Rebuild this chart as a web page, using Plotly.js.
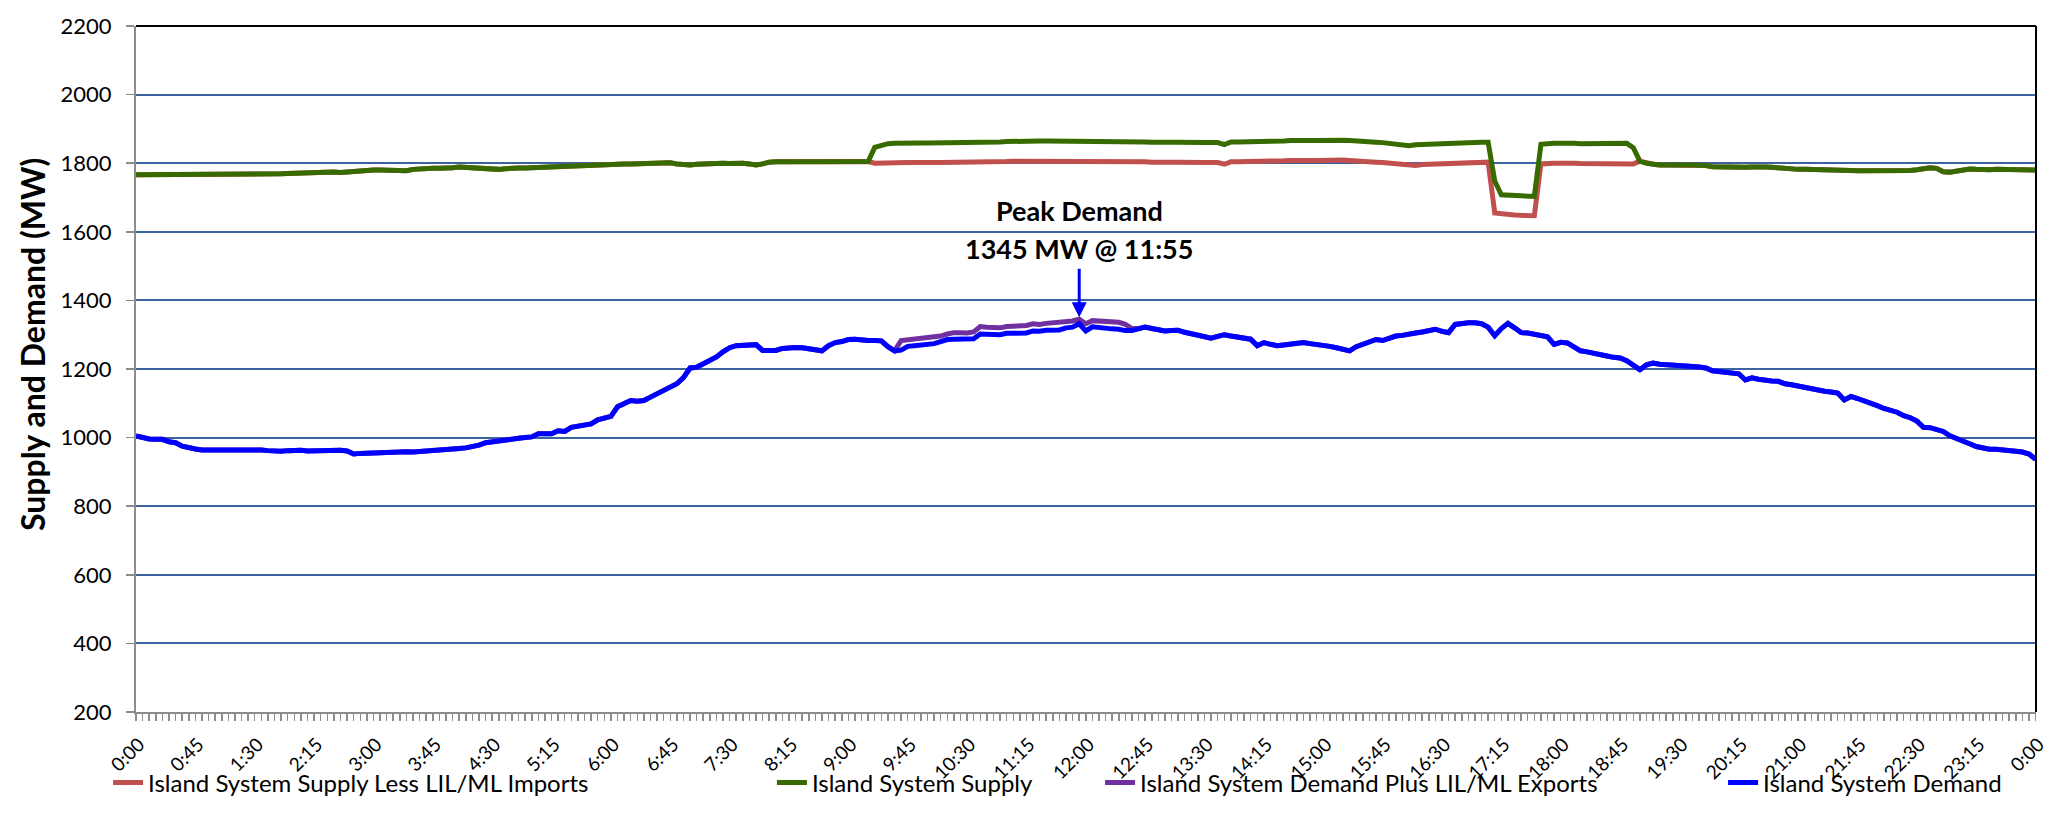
<!DOCTYPE html>
<html>
<head>
<meta charset="utf-8">
<script src="https://cdn.plot.ly/plotly-3.0.1.min.js"></script>
<style>html,body{margin:0;padding:0;background:#fff;}#chart{width:2047px;height:831px;}</style>
</head>
<body>
<div id="chart"></div>
<script>
// 5-minute intervals from 0:00 to 24:00 (289 points)
const tickLabels = ['0:00','0:45','1:30','2:15','3:00','3:45','4:30','5:15','6:00','6:45','7:30','8:15','9:00','9:45','10:30','11:15','12:00','12:45','13:30','14:15','15:00','15:45','16:30','17:15','18:00','18:45','19:30','20:15','21:00','21:45','22:30','23:15','0:00'];

const islandDemand = [
1005,1000,996,995,995,988,985,975,970,967,
964,964,965,966,966,965,964,965,964,964,
962,960,960,962,963,963,961,962,963,962,
962,963,961,952,954,955,956,957,957,958,
959,959,958,959,960,961,962,964,966,968,
970,973,978,985,988,992,995,996,998,1000,
1002,1011,1010,1011,1020,1018,1030,1034,1035,1040,
1052,1058,1062,1090,1100,1108,1106,1108,1118,1128,
1138,1147,1157,1175,1203,1205,1215,1222,1235,1250,
1262,1268,1270,1272,1271,1254,1253,1254,1260,1262,
1263,1262,1258,1254,1253,1268,1277,1280,1286,1287,
1284,1283,1283,1282,1265,1253,1255,1266,1268,1270,
1271,1274,1280,1286,1287,1287,1286,1288,1302,1301,
1300,1300,1304,1305,1306,1305,1311,1310,1313,1315,
1314,1320,1322,1332,1311,1323,1320,1318,1317,1316,
1312,1312,1318,1322,1318,1313,1311,1312,1313,1307,
1302,1298,1293,1290,1295,1300,1296,1292,1290,1287,
1268,1277,1272,1268,1270,1273,1276,1277,1274,1272,
1268,1266,1262,1258,1253,1265,1272,1278,1286,1283,
1290,1296,1298,1300,1305,1308,1313,1316,1310,1306,
1330,1333,1335,1335,1332,1322,1297,1318,1333,1320,
1306,1305,1302,1298,1294,1272,1278,1276,1265,1253,
1250,1247,1244,1238,1234,1232,1224,1212,1198,1212,
1217,1214,1212,1211,1210,1208,1207,1206,1203,1195,
1193,1191,1190,1186,1168,1174,1170,1166,1165,1164,
1157,1154,1150,1147,1141,1137,1135,1133,1130,1110,
1120,1114,1108,1100,1093,1085,1079,1074,1064,1058,
1048,1030,1029,1025,1018,1005,996,990,982,974,
970,966,966,963,962,960,958,952,937];

const demandPlusExports = [
1005,1000,996,995,995,988,985,975,970,967,
964,964,965,966,966,965,964,965,964,964,
962,960,960,962,963,963,961,962,963,962,
962,963,961,952,954,955,956,957,957,958,
959,959,958,959,960,961,962,964,966,968,
970,973,978,985,988,992,995,996,998,1000,
1002,1011,1010,1011,1020,1018,1030,1034,1035,1040,
1052,1058,1062,1090,1100,1108,1106,1108,1118,1128,
1138,1147,1157,1175,1203,1205,1215,1222,1235,1250,
1262,1268,1270,1272,1271,1254,1253,1254,1260,1262,
1263,1262,1258,1254,1253,1268,1277,1280,1286,1287,
1284,1283,1283,1282,1265,1253,1283,1285,1287,1288,
1290,1292,1296,1302,1306,1306,1305,1308,1324,1322,
1320,1320,1324,1325,1328,1327,1332,1330,1333,1335,
1334,1338,1340,1345,1332,1341,1339,1338,1337,1336,
1330,1318,1318,1322,1318,1313,1311,1312,1313,1307,
1302,1298,1293,1290,1295,1300,1296,1292,1290,1287,
1268,1277,1272,1268,1270,1273,1276,1277,1274,1272,
1268,1266,1262,1258,1253,1265,1272,1278,1286,1283,
1290,1296,1298,1300,1305,1308,1313,1316,1310,1306,
1330,1333,1335,1335,1332,1322,1297,1318,1333,1320,
1306,1305,1302,1298,1294,1272,1278,1276,1265,1253,
1250,1247,1244,1238,1234,1232,1224,1212,1198,1212,
1217,1214,1212,1211,1210,1208,1207,1206,1203,1195,
1193,1191,1190,1186,1168,1174,1170,1166,1165,1164,
1157,1154,1150,1147,1141,1137,1135,1133,1130,1110,
1120,1114,1108,1100,1093,1085,1079,1074,1064,1058,
1048,1030,1029,1025,1018,1005,996,990,982,974,
970,966,966,963,962,960,958,952,937];

const islandSupply = [
1766,1766,1766,1766,1767,1768,1769,1769,1769,1769,
1769,1769,1769,1769,1769,1768,1767,1766,1768,1769,
1769,1769,1769,1770,1771,1772,1773,1773,1774,1775,
1774,1773,1775,1777,1779,1780,1780,1780,1780,1779,
1779,1778,1782,1784,1785,1785,1785,1785,1787,1789,
1788,1786,1785,1782,1781,1782,1784,1786,1786,1786,
1787,1788,1788,1789,1790,1790,1791,1792,1793,1793,
1794,1795,1796,1797,1798,1798,1799,1800,1800,1799,
1800,1801,1798,1796,1795,1797,1798,1800,1801,1800,
1799,1800,1800,1798,1795,1798,1803,1804,1804,1804,
1804,1804,1804,1805,1805,1805,1806,1806,1806,1805,
1805,1805,1846,1852,1857,1858,1859,1860,1860,1859,
1859,1859,1860,1860,1861,1861,1860,1860,1861,1862,
1862,1862,1863,1864,1864,1865,1865,1865,1865,1865,
1865,1865,1865,1865,1865,1865,1865,1865,1865,1865,
1864,1864,1863,1862,1861,1860,1860,1861,1861,1860,
1860,1860,1860,1860,1860,1854,1862,1862,1862,1863,
1863,1864,1864,1865,1865,1866,1867,1867,1866,1866,
1867,1867,1867,1867,1866,1864,1863,1862,1861,1860,
1858,1857,1855,1851,1854,1855,1855,1857,1858,1859,
1860,1861,1861,1861,1861,1861,1748,1708,1707,1706,
1705,1705,1703,1855,1858,1858,1858,1859,1858,1857,
1857,1857,1857,1857,1858,1857,1858,1845,1806,1800,
1797,1795,1795,1794,1795,1795,1795,1795,1793,1790,
1789,1788,1787,1788,1788,1789,1790,1789,1788,1786,
1784,1783,1782,1782,1782,1782,1782,1781,1781,1781,
1779,1778,1778,1777,1777,1777,1777,1778,1778,1779,
1781,1784,1787,1785,1775,1774,1778,1782,1783,1782,
1780,1781,1782,1782,1781,1780,1780,1781,1780];

const supplyLessImports = [
1766,1766,1766,1766,1767,1768,1769,1769,1769,1769,
1769,1769,1769,1769,1769,1768,1767,1766,1768,1769,
1769,1769,1769,1770,1771,1772,1773,1773,1774,1775,
1774,1773,1775,1777,1779,1780,1780,1780,1780,1779,
1779,1778,1782,1784,1785,1785,1785,1785,1787,1789,
1788,1786,1785,1782,1781,1782,1784,1786,1786,1786,
1787,1788,1788,1789,1790,1790,1791,1792,1793,1793,
1794,1795,1796,1797,1798,1798,1799,1800,1800,1799,
1800,1801,1798,1796,1795,1797,1798,1800,1801,1800,
1799,1800,1800,1798,1795,1798,1803,1804,1804,1804,
1804,1804,1804,1805,1805,1805,1806,1806,1806,1805,
1805,1805,1800,1801,1802,1801,1801,1802,1802,1801,
1801,1802,1802,1802,1803,1803,1802,1802,1803,1804,
1804,1805,1805,1806,1806,1807,1807,1807,1807,1807,
1807,1807,1807,1807,1807,1807,1807,1807,1807,1807,
1806,1806,1805,1804,1803,1802,1802,1803,1803,1802,
1802,1802,1802,1802,1802,1797,1804,1804,1804,1805,
1805,1806,1806,1807,1807,1808,1809,1809,1808,1808,
1809,1809,1809,1809,1808,1806,1805,1804,1803,1802,
1800,1799,1797,1795,1793,1796,1797,1797,1799,1800,
1801,1802,1803,1803,1803,1803,1655,1652,1650,1649,
1648,1648,1647,1798,1800,1800,1800,1801,1800,1799,
1799,1799,1799,1799,1800,1799,1799,1798,1806,1800,
1797,1795,1795,1794,1795,1795,1795,1795,1793,1790,
1789,1788,1787,1788,1788,1789,1790,1789,1788,1786,
1784,1783,1782,1782,1782,1782,1782,1781,1781,1781,
1779,1778,1778,1777,1777,1777,1777,1778,1778,1779,
1781,1784,1787,1785,1775,1774,1778,1782,1783,1782,
1780,1781,1782,1782,1781,1780,1780,1781,1780];

const seriesNames = ['Island System Supply Less LIL/ML Imports','Island System Supply','Island System Demand Plus LIL/ML Exports','Island System Demand'];
const seriesColors = ['#C0504D','#376B00','#7030A0','#0000FF'];
const peakText = ['Peak Demand','1345 MW @ 11:55'];
const yAxisTitle = 'Supply and Demand (MW)';

// x positions: minutes since midnight, one per 5-minute category
const minutes = islandDemand.map((_, i) => i * 5);
const tickMinutes = tickLabels.map((_, i) => i * 45);

const seriesData = [supplyLessImports, islandSupply, demandPlusExports, islandDemand];
const legendIds = ['legend','legend2','legend3','legend4'];
const traces = seriesData.map((ys, k) => ({
  type: 'scatter', mode: 'lines', x: minutes, y: ys, name: seriesNames[k],
  line: {color: seriesColors[k], width: 5},
  legend: legendIds[k], hoverinfo: 'skip'
}));

const legendX = [-0.0147, 0.3347, 0.5074, 0.8353];
const legendBase = {orientation: 'h', y: -0.1035, yanchor: 'middle', xanchor: 'left',
  bgcolor: 'rgba(0,0,0,0)', font: {family: 'Lato, sans-serif', size: 24, color: '#000'}};

const peakIdx = demandPlusExports.indexOf(Math.max(...demandPlusExports));

const layout = {
  width: 2047, height: 831,
  margin: {l: 136, r: 11, t: 26, b: 119},
  paper_bgcolor: '#fff', plot_bgcolor: '#fff',
  font: {family: 'Lato, sans-serif', size: 22, color: '#000'},
  showlegend: true,
  xaxis: {
    range: [0, 1440.3], tickmode: 'array', tickvals: tickMinutes, ticktext: tickLabels,
    tickangle: -45, ticks: 'outside', ticklen: 7, tickwidth: 1.5, tickcolor: '#8c8c8c',
    showline: true, linecolor: '#8c8c8c', linewidth: 2, showgrid: false, zeroline: false,
    tickfont: {family: 'Lato, sans-serif', size: 19, color: '#000'},
    ticklabelstandoff: 5, ticklabelshift: 3, ticklabeloverflow: 'allow',
    minor: {tickmode: 'linear', tick0: 0, dtick: 5, ticks: 'outside', ticklen: 7, tickwidth: 1.5, tickcolor: '#8c8c8c', showgrid: false},
    fixedrange: true
  },
  yaxis: {
    range: [200, 2200], tickmode: 'linear', tick0: 200, dtick: 200,
    ticks: 'outside', ticklen: 8, tickwidth: 1.5, tickcolor: '#8c8c8c',
    showline: true, linecolor: '#8c8c8c', linewidth: 2,
    showgrid: true, gridcolor: '#3a63a0', gridwidth: 2, zeroline: false,
    tickfont: {family: 'Lato, sans-serif', size: 22, color: '#000'},
    ticklabelstandoff: 10,
    fixedrange: true
  },
  shapes: [
    {type: 'line', xref: 'paper', yref: 'paper', x0: 0, x1: 1, y0: 1, y1: 1, line: {color: '#000', width: 2}},
    {type: 'line', xref: 'paper', yref: 'paper', x0: 1, x1: 1, y0: 0, y1: 1, line: {color: '#000', width: 2}}
  ],
  annotations: [
    {xref: 'paper', yref: 'paper', x: -0.0542, y: 0.535, xanchor: 'center', yanchor: 'middle',
     text: '<b>' + yAxisTitle + '</b>', textangle: -90, showarrow: false,
     font: {family: 'Lato, sans-serif', size: 32, color: '#000'}},
    {x: minutes[peakIdx], y: demandPlusExports[peakIdx], xref: 'x', yref: 'y', text: '', showarrow: true,
     arrowhead: 2, arrowsize: 1, arrowwidth: 3, arrowcolor: '#0000FF', ax: 0, ay: -52, standoff: 2},
    {x: minutes[peakIdx], y: 1661, xref: 'x', yref: 'y', text: '<b>' + peakText[0] + '</b>', showarrow: false,
     font: {family: 'Lato, sans-serif', size: 27, color: '#000'}},
    {x: minutes[peakIdx], y: 1550, xref: 'x', yref: 'y', text: '<b>' + peakText[1] + '</b>', showarrow: false,
     font: {family: 'Lato, sans-serif', size: 27, color: '#000'}}
  ]
};
legendIds.forEach((id, k) => { layout[id] = Object.assign({}, legendBase, {x: legendX[k]}); });

Plotly.newPlot('chart', traces, layout, {displayModeBar: false, staticPlot: true});
</script>
</body>
</html>
